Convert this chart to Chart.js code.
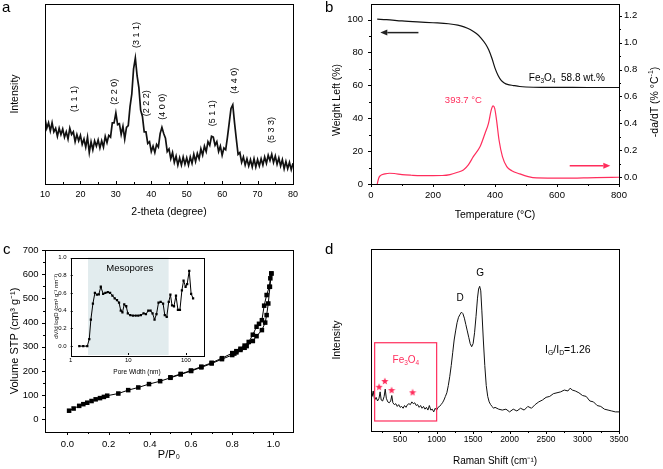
<!DOCTYPE html>
<html lang="en">
<head>
<meta charset="utf-8">
<title>Fe3O4 / carbon characterisation</title>
<script src="https://cdn.jsdelivr.net/npm/chart.js@4.4.1/dist/chart.umd.min.js"></script>
<style>
  body { margin: 0; background: #fff; }
  #page { position: relative; width: 663px; height: 469px; overflow: hidden; }
  #page canvas { position: absolute; }
  .tag { position: absolute; font: 15px 'Liberation Sans', Arial, sans-serif; line-height: 16px; color: #000; }
</style>
</head>
<body>
<div id="page">
  <canvas id="xrd" width="330" height="235" style="left:0;top:0"></canvas>
  <canvas id="tga" width="333" height="235" style="left:330px;top:0"></canvas>
  <canvas id="bet" width="330" height="234" style="left:0;top:235px"></canvas>
  <canvas id="raman" width="333" height="234" style="left:330px;top:235px"></canvas>
  <canvas id="pore" width="160" height="128" style="left:50px;top:250px"></canvas>
  <div class="tag" style="left:2px;top:-1px">a</div>
  <div class="tag" style="left:325px;top:-1px">b</div>
  <div class="tag" style="left:3px;top:241px">c</div>
  <div class="tag" style="left:325px;top:241px">d</div>
</div>
<script>
// ---------- data ----------
// (a) XRD
var xrdAngle = [10,10.5,11,11.5,12,12.5,13,13.5,14,14.5,15,15.5,16,16.5,17,17.5,18,18.5,19,19.5,
  20,20.5,21,21.5,22,22.5,23,23.5,24,24.5,25,25.5,26,26.5,27,27.5,28,28.5,29,29.5,
  30,30.5,31,31.5,32,32.5,33,33.5,34,34.5,35,35.5,36,36.5,37,37.5,38,38.5,39,39.5,
  40,40.5,41,41.5,42,42.5,43,43.5,44,44.5,45,45.5,46,46.5,47,47.5,48,48.5,49,49.5,
  50,50.5,51,51.5,52,52.5,53,53.5,54,54.5,55,55.5,56,56.5,57,57.5,58,58.5,59,59.5,
  60,60.5,61,61.5,62,62.5,63,63.5,64,64.5,65,65.5,66,66.5,67,67.5,68,68.5,69,69.5,
  70,70.5,71,71.5,72,72.5,73,73.5,74,74.5,75,75.5,76,76.5,77,77.5,78,78.5,79,79.5,80];
var xrdIntensity = [36.5,31,34,29.5,34,29,31,26.5,31,27.5,
  30.5,26,29,25,31,27.5,29,23.5,27.5,24,
  27,22,25,20.5,26,17.5,23.5,19,24,21,
  24.5,20,24,20.5,26.5,23,27,26,34,34,
  39.5,33,33.5,27.5,32,25,31.5,32.5,43,50,
  64,70,60,53.5,41,37.5,29,29,22.5,23.5,
  18,21,17.5,22,20.5,28,31.5,28,25.5,18,
  19.5,14,17.5,12,15.5,10.5,14.5,10.5,15,11,
  14.5,10.5,15,11.5,16.5,12.5,17,14,19.5,16,
  21,18,23.5,21.5,26.5,26,21.5,23.5,18,21,
  16,20,19,26,34,42,44,34,25,16.5,
  17.5,12,15,10.5,14,10,13.5,9.5,14,9.5,
  13.5,10,14,10.5,15,11.5,16,13,16.5,12,
  15.5,11,14.5,10,13.5,8.5,12.5,8.5,12,8,
  11.5];
var xrdTicks = [10, 20, 30, 40, 50, 60, 70, 80];
var hklLabels = ['(1 1 1)', '(2 2 0)', '(3 1 1)', '(2 2 2)', '(4 0 0)', '(5 1 1)', '(4 4 0)', '(5 3 3)'];

// (b) TGA / DTG
var tgaTemp = [20,50,100,150,200,250,280,300,320,340,355,370,380,390,400,410,420,430,440,460,480,500,550,600,700,800];
var tgaWeight = [100.3,100,99.2,98.6,98.1,97.5,96.7,95.6,94,91.5,88.8,85,81.5,76.5,70.5,66,63,61.5,60.6,59.9,59.3,59,58.8,58.8,58.7,58.7];
var dtgTemp = [20,25,30,45,60,75,100,130,160,200,230,255,277,298,314,330,352,368,379,388,393.7,399,405,413,424,438,454,480,507,534,620,727,800];
var dtgRate = [-0.05,-0.005,0.012,0.025,0.03,0.028,0.02,0.015,0.012,0.012,0.013,0.02,0.035,0.054,0.092,0.153,0.228,0.327,0.40,0.5,0.53,0.512,0.425,0.277,0.153,0.079,0.049,0.025,0.005,-0.005,-0.007,-0.002,0.0];
var tempTicks = [0, 200, 400, 600, 800];
var weightTicks = [0, 20, 40, 60, 80, 100];
var rateTicks = [0, 0.2, 0.4, 0.6, 0.8, 1.0, 1.2];

// (c) N2 isotherm and pore size distribution
var adsP = [0.008,0.03,0.057,0.077,0.096,0.117,0.137,0.158,0.177,0.193,0.247,0.295,0.344,0.396,0.45,0.5,0.55,0.6,0.65,0.7,0.75,0.8,0.81,0.82,0.84,0.86,0.87,0.9,0.918,0.944,0.96,0.967,0.975,0.983,0.99];
var adsV = [36,45,56,63,69,76,83,88,93,98,107,121,132,146,158,172,186,200,215,231,249,266,272,277,287,296,303,324,344,369,400,431,479,548,603];
var desP = [0.99,0.985,0.98,0.967,0.955,0.944,0.93,0.918,0.9,0.88,0.86,0.84,0.82,0.8,0.75,0.7,0.65,0.6,0.55,0.5];
var desV = [603,583,548,514,470,410,395,383,350,320,305,292,282,274,253,234,218,202,188,174];
var pressureTicks = [0, 0.2, 0.4, 0.6, 0.8, 1.0];
var volumeTicks = [0, 100, 200, 300, 400, 500, 600, 700];
var poreWidth = [1.41,1.65,1.94,2.1,2.24,2.43,2.63,2.85,3.08,3.33,3.66,4.0,4.4,4.83,5.3,5.8,6.36,6.9,7.4,7.9,
  8.5,9.2,9.8,10.8,12.0,13.4,14.9,16.5,18.4,20.2,22.2,24.3,26.3,28.5,30.8,33.4,36.4,40.1,42.9,46.4,
  50.3,53.7,57.4,62.0,67.1,72.6,78.6,85.1,90.9,98.5,105,114,123,133];
var poreVolume = [0,0,0,0.08,0.30,0.48,0.60,0.58,0.585,0.67,0.59,0.60,0.61,0.60,0.57,0.54,0.52,0.49,0.40,0.38,
  0.47,0.45,0.37,0.35,0.345,0.345,0.345,0.35,0.37,0.36,0.40,0.40,0.37,0.30,0.36,0.49,0.50,0.48,0.35,0.33,
  0.50,0.58,0.46,0.45,0.57,0.41,0.41,0.63,0.74,0.67,0.70,0.85,0.59,0.54];
var widthTicks = [1, 10, 100];
var poreTicks = [0, 0.2, 0.4, 0.6, 0.8, 1.0];
var mesoRange = [2, 50];

// (d) Raman
var ramanShift = [100,115,130,150,170,190,210,225,240,260,280,295,310,330,350,370,385,400,420,440,
  460,480,500,520,540,560,580,600,620,640,660,680,700,720,740,760,780,800,820,840,
  860,880,900,920,940,960,980,1000,1020,1040,1060,1080,1100,1120,1140,1160,1180,1200,1220,1240,
  1260,1280,1300,1320,1340,1360,1380,1400,1420,1440,1460,1480,1500,1520,1540,1560,1575,1590,1605,1620,
  1640,1660,1680,1700,1720,1740,1760,1780,1800,1850,1900,1950,2000,2050,2100,2150,2200,2250,2300,2350,
  2400,2450,2500,2550,2600,2650,2700,2750,2800,2830,2860,2900,2950,3000,3050,3100,3150,3200,3250,3300,
  3350,3400,3450,3500];
var ramanIntensity = [23,19,22,17,18.5,16.5,18,21.5,17,16.5,19,23,18,16,15.5,16.5,19.5,15.5,14.5,15,
  13.5,14.5,13,13.5,12.5,14,13,14.5,15,14.5,16,15,15.5,14,14.5,13,14,12.5,13.5,12,
  13,11.5,14,11.5,12,10.5,12.5,11.5,13,13.5,14.5,15.5,17,19,21,25,30,36,43,50,
  55,59.5,62.5,64,65.3,64.5,62,58.5,55,51.5,48,46.3,48,54,63,73,78,79.5,77,66,
  50,36,25,19,16,14.5,13.5,12.5,13,12,11.5,12,10.5,12,11,12.5,11.5,13.5,12.5,14.5,
  16,17,18.5,19,20.5,21,21.5,22.5,22,23.5,22.5,22,21,19.5,19,16.5,16,14,13.5,12,
  11.5,11,10.5,10.5];
var starShift = [211, 290, 382, 670];
var starIntensity = [24.3, 27.5, 22.5, 21.3];
var shiftTicks = [500, 1000, 1500, 2000, 2500, 3000, 3500];

var RED = '#ff2d5c';
var FONT = "'Liberation Sans', Arial, sans-serif";

// ---------- helpers ----------
Chart.defaults.font.family = FONT;
Chart.defaults.color = '#000';
Chart.defaults.animation = false;
Chart.defaults.responsive = false;
Chart.defaults.plugins.legend.display = false;
Chart.defaults.plugins.tooltip.enabled = false;

function pts(xs, ys) {
  return xs.map(function (x, i) { return { x: x, y: ys[i] }; });
}

// one axis with fixed ticks and a fixed thickness, so the plot boxes land where the figure has them
function axis(o) {
  return {
    type: o.type || 'linear',
    position: o.position,
    min: o.min,
    max: o.max,
    grid: { display: false, drawTicks: false },
    border: { display: false },
    ticks: {
      display: o.labels !== false,
      autoSkip: false,
      maxRotation: 0,
      padding: o.pad || 0,
      font: { size: o.font || 9 },
      callback: o.format || function (v) { return String(v); }
    },
    title: {
      display: !!o.title,
      text: o.title || '',
      font: { size: o.titleFont || 10.5 },
      padding: { top: o.titlePad || 0, bottom: o.titlePad || 0 }
    },
    afterBuildTicks: function (s) {
      s.ticks = o.ticks.map(function (v) { return { value: v }; });
    },
    afterFit: function (s) {
      if (s.isHorizontal()) s.height = o.size; else s.width = o.size;
      s.paddingTop = 0; s.paddingBottom = 0; s.paddingLeft = 0; s.paddingRight = 0;
    }
  };
}

function oneDec(v) { return v.toFixed(1); }

// text with sub/superscripts: parts = [[text, 'sub'|'sup'|undefined], ...]
function rich(ctx, parts, x, y, size, align, color) {
  ctx.save();
  ctx.fillStyle = color || '#000';
  ctx.textBaseline = 'middle';
  ctx.textAlign = 'left';
  var w = 0;
  parts.forEach(function (p) {
    ctx.font = (p[1] ? size * 0.65 : size) + 'px ' + FONT;
    w += ctx.measureText(p[0]).width;
  });
  var cx = align === 'center' ? x - w / 2 : (align === 'right' ? x - w : x);
  parts.forEach(function (p) {
    ctx.font = (p[1] ? size * 0.65 : size) + 'px ' + FONT;
    var dy = p[1] === 'sub' ? size * 0.3 : (p[1] === 'sup' ? -size * 0.35 : 0);
    ctx.fillText(p[0], cx, y + dy);
    cx += ctx.measureText(p[0]).width;
  });
  ctx.restore();
}

function vrich(ctx, parts, x, y, size, color) {
  ctx.save();
  ctx.translate(x, y);
  ctx.rotate(-Math.PI / 2);
  rich(ctx, parts, 0, 0, size, 'center', color);
  ctx.restore();
}

function arrow(ctx, x0, y0, x1, y1, color) {
  var a = Math.atan2(y1 - y0, x1 - x0), h = 7, w = 3;
  var c = Math.cos(a), s = Math.sin(a);
  ctx.save();
  ctx.strokeStyle = color; ctx.fillStyle = color; ctx.lineWidth = 1.5;
  ctx.beginPath(); ctx.moveTo(x0, y0); ctx.lineTo(x1 - h * c, y1 - h * s); ctx.stroke();
  ctx.beginPath();
  ctx.moveTo(x1, y1);
  ctx.lineTo(x1 - h * c + w * s, y1 - h * s - w * c);
  ctx.lineTo(x1 - h * c - w * s, y1 - h * s + w * c);
  ctx.closePath(); ctx.fill();
  ctx.restore();
}

function drawMarks(chart, m) {
  var s = chart.scales[m.scale], a = chart.chartArea, ctx = chart.ctx;
  var sign = m.dir === 'in' ? -1 : 1;
  ctx.beginPath();
  m.values.forEach(function (v) {
    var p = Math.round(s.getPixelForValue(v)) + 0.5;
    if (s.position === 'bottom') { ctx.moveTo(p, a.bottom); ctx.lineTo(p, a.bottom + sign * m.len); }
    else if (s.position === 'left') { ctx.moveTo(a.left, p); ctx.lineTo(a.left - sign * m.len, p); }
    else { ctx.moveTo(a.right, p); ctx.lineTo(a.right + sign * m.len, p); }
  });
  ctx.stroke();
}

// frame, tick marks and annotations
Chart.register({
  id: 'deco',
  beforeDatasetsDraw: function (chart, args, opts) {
    if (opts.under) opts.under(chart, chart.ctx);
  },
  afterDraw: function (chart, args, opts) {
    var ctx = chart.ctx, a = chart.chartArea;
    ctx.save();
    ctx.strokeStyle = '#000';
    ctx.lineWidth = 1;
    ctx.strokeRect(Math.round(a.left) + 0.5, Math.round(a.top) + 0.5,
      Math.round(a.right - a.left), Math.round(a.bottom - a.top));
    (opts.marks || []).forEach(function (m) { drawMarks(chart, m); });
    ctx.restore();
    if (opts.over) opts.over(chart, ctx);
  }
});

// filled star used for the Fe3O4 bands
var starImg = document.createElement('canvas');
starImg.width = 8; starImg.height = 8;
(function () {
  var c = starImg.getContext('2d');
  c.fillStyle = RED;
  c.beginPath();
  for (var i = 0; i < 10; i++) {
    var r = i % 2 ? 1.6 : 3.8, t = -Math.PI / 2 + i * Math.PI / 5;
    c.lineTo(4 + r * Math.cos(t), 4.4 + r * Math.sin(t));
  }
  c.closePath(); c.fill();
})();

// ---------- (a) XRD ----------
new Chart(document.getElementById('xrd'), {
  type: 'line',
  data: { datasets: [{ data: pts(xrdAngle, xrdIntensity), borderColor: '#111', borderWidth: 1.7, pointRadius: 0 }] },
  options: {
    layout: { padding: { top: 4, right: 37 } },
    scales: {
      x: axis({ position: 'bottom', min: 10, max: 80, ticks: xrdTicks, pad: 5.6, size: 51, title: '2-theta (degree)', titlePad: 16.7 }),
      y: axis({ position: 'left', min: 0, max: 100, ticks: [0, 100], labels: false, size: 45, title: 'Intensity', titlePad: 8.7 })
    },
    plugins: {
      deco: {
        marks: [
          { scale: 'x', values: xrdTicks, len: 3, dir: 'in' },
          { scale: 'x', values: [15, 25, 35, 45, 55, 65, 75], len: 2, dir: 'in' }
        ],
        over: function (chart, ctx) {
          var x = chart.scales.x, y = chart.scales.y;
          var at = [[18.2, 47.2], [29.7, 51.3], [35.7, 82.8], [38.7, 44.8], [43.3, 42.9], [57.2, 39.3], [63.6, 57.3], [73.9, 30]];
          hklLabels.forEach(function (t, i) {
            vrich(ctx, [[t]], x.getPixelForValue(at[i][0]), y.getPixelForValue(at[i][1]), 9, '#000');
          });
        }
      }
    }
  }
});

// ---------- (b) TGA ----------
new Chart(document.getElementById('tga'), {
  type: 'line',
  data: {
    datasets: [
      { data: pts(tgaTemp, tgaWeight), yAxisID: 'y', borderColor: '#111', borderWidth: 1.2, pointRadius: 0, cubicInterpolationMode: 'monotone' },
      { data: pts(dtgTemp, dtgRate), yAxisID: 'y2', borderColor: RED, borderWidth: 1.2, pointRadius: 0, cubicInterpolationMode: 'monotone' }
    ]
  },
  options: {
    layout: { padding: { top: 4 } },
    scales: {
      x: axis({ position: 'bottom', min: 0, max: 800, ticks: tempTicks, pad: 5.6, size: 51, font: 9.5, title: 'Temperature (°C)', titlePad: 13.7 }),
      y: axis({ position: 'left', min: 0, max: 109.5, ticks: weightTicks, pad: 8, size: 41, font: 9.5 }),
      y2: axis({ position: 'right', min: -0.05, max: 1.287, ticks: rateTicks, pad: 5, size: 44, font: 9.5, format: oneDec })
    },
    plugins: {
      deco: {
        marks: [
          { scale: 'x', values: tempTicks, len: 3, dir: 'out' },
          { scale: 'x', values: [100, 300, 500, 700], len: 2, dir: 'out' },
          { scale: 'y', values: weightTicks, len: 3, dir: 'out' },
          { scale: 'y', values: [10, 30, 50, 70, 90], len: 2, dir: 'out' },
          { scale: 'y2', values: rateTicks, len: 3, dir: 'out' },
          { scale: 'y2', values: [0.1, 0.3, 0.5, 0.7, 0.9, 1.1], len: 2, dir: 'out' }
        ],
        over: function (chart, ctx) {
          var x = chart.scales.x, y = chart.scales.y, y2 = chart.scales.y2;
          rich(ctx, [['Fe'], ['3', 'sub'], ['O'], ['4', 'sub'], ['  58.8 wt.%']],
            x.getPixelForValue(509), y.getPixelForValue(64.4), 10, 'left', '#000');
          rich(ctx, [['393.7 °C']], x.getPixelForValue(298), y.getPixelForValue(51), 9.5, 'center', RED);
          arrow(ctx, x.getPixelForValue(153), y.getPixelForValue(92.1), x.getPixelForValue(30), y.getPixelForValue(92.1), '#222');
          arrow(ctx, x.getPixelForValue(641), y2.getPixelForValue(0.086), x.getPixelForValue(772), y2.getPixelForValue(0.086), RED);
          vrich(ctx, [['Weight Left (%)']], 7.3, 100, 10.5, '#000');
          vrich(ctx, [['-da/dT (% °C'], ['-1', 'sup'], [')']], 325, 102, 10.5, '#000');
        }
      }
    }
  }
});

// ---------- (c) N2 isotherm ----------
new Chart(document.getElementById('bet'), {
  type: 'line',
  data: {
    datasets: [
      { data: pts(adsP, adsV), borderColor: '#000', borderWidth: 1, pointStyle: 'rect', pointRadius: 3.2, pointBorderWidth: 0, pointBackgroundColor: '#000' },
      { data: pts(desP, desV), borderColor: '#000', borderWidth: 1, pointStyle: 'rect', pointRadius: 3.2, pointBorderWidth: 0, pointBackgroundColor: '#000' }
    ]
  },
  options: {
    layout: { padding: { top: 15, right: 37 } },
    scales: {
      x: axis({ position: 'bottom', min: -0.109, max: 1.095, ticks: pressureTicks, pad: 7, size: 37, font: 9.5, format: oneDec, title: 'P/P₀', titleFont: 11, titlePad: 7.4 }),
      y: axis({ position: 'left', min: -52, max: 700, ticks: volumeTicks, pad: 6.5, size: 45, font: 9.5, title: 'Volume STP (cm³ g⁻¹)', titleFont: 11, titlePad: 8.4 })
    },
    plugins: {
      deco: {
        marks: [
          { scale: 'x', values: pressureTicks, len: 3, dir: 'out' },
          { scale: 'x', values: [0.1, 0.3, 0.5, 0.7, 0.9], len: 2, dir: 'out' },
          { scale: 'y', values: volumeTicks, len: 3, dir: 'out' },
          { scale: 'y', values: [50, 150, 250, 350, 450, 550, 650], len: 2, dir: 'out' }
        ]
      }
    }
  }
});

// ---------- (c) inset: pore size distribution ----------
new Chart(document.getElementById('pore'), {
  type: 'line',
  data: {
    datasets: [{ data: pts(poreWidth, poreVolume), borderColor: '#000', borderWidth: 1, pointStyle: 'rect', pointRadius: 1.6, pointBorderWidth: 0, pointBackgroundColor: '#000' }]
  },
  options: {
    layout: { padding: { top: 7.5, right: 6.7 } },
    scales: {
      x: axis({ type: 'logarithmic', position: 'bottom', min: 1, max: 200, ticks: widthTicks, pad: 1.4, size: 23, font: 6, title: 'Pore Width (nm)', titleFont: 6.5, titlePad: 1.8 }),
      y: axis({ position: 'left', min: -0.1, max: 1.0, ticks: poreTicks, pad: 4, size: 20.7, font: 6, format: oneDec, title: 'dV/d logD (cm³ g⁻¹ nm⁻¹)', titleFont: 6, titlePad: 3 })
    },
    plugins: {
      deco: {
        marks: [
          { scale: 'x', values: widthTicks, len: 2, dir: 'in' },
          { scale: 'y', values: poreTicks, len: 2, dir: 'in' }
        ],
        under: function (chart, ctx) {
          var x = chart.scales.x, a = chart.chartArea;
          var x0 = x.getPixelForValue(mesoRange[0]), x1 = x.getPixelForValue(mesoRange[1]);
          ctx.save();
          ctx.fillStyle = '#e2ecee';
          ctx.fillRect(x0, a.top, x1 - x0, a.bottom - a.top);
          ctx.restore();
        },
        over: function (chart, ctx) {
          rich(ctx, [['Mesopores']], chart.scales.x.getPixelForValue(10.6), chart.scales.y.getPixelForValue(0.88), 9.5, 'center', '#000');
        }
      }
    }
  }
});

// ---------- (d) Raman ----------
new Chart(document.getElementById('raman'), {
  type: 'line',
  data: {
    datasets: [
      { data: pts(ramanShift, ramanIntensity), borderColor: '#111', borderWidth: 1, pointRadius: 0 },
      { data: pts(starShift, starIntensity), showLine: false, pointStyle: starImg, pointRadius: 4 }
    ]
  },
  options: {
    layout: { padding: { top: 14, right: 44 } },
    scales: {
      x: axis({ position: 'bottom', min: 100, max: 3500, ticks: shiftTicks, pad: 3.3, size: 38, font: 8.5, title: 'Raman Shift (cm⁻¹)', titleFont: 10, titlePad: 1.3 }),
      y: axis({ position: 'left', min: 0, max: 100, ticks: [0, 100], labels: false, size: 41, title: 'Intensity', titlePad: 1.3 })
    },
    plugins: {
      deco: {
        marks: [
          { scale: 'x', values: shiftTicks, len: 3, dir: 'out' },
          { scale: 'x', values: [250, 750, 1250, 1750, 2250, 2750, 3250], len: 2, dir: 'out' }
        ],
        over: function (chart, ctx) {
          var x = chart.scales.x, y = chart.scales.y;
          var bx0 = x.getPixelForValue(150), bx1 = x.getPixelForValue(1000);
          var by0 = y.getPixelForValue(48.5), by1 = y.getPixelForValue(5.5);
          ctx.save();
          ctx.strokeStyle = RED; ctx.lineWidth = 1.2;
          ctx.strokeRect(bx0, by0, bx1 - bx0, by1 - by0);
          ctx.restore();
          rich(ctx, [['Fe'], ['3', 'sub'], ['O'], ['4', 'sub']], x.getPixelForValue(578), y.getPixelForValue(39), 10, 'center', RED);
          rich(ctx, [['D']], x.getPixelForValue(1320), y.getPixelForValue(72.8), 10, 'center', '#000');
          rich(ctx, [['G']], x.getPixelForValue(1595), y.getPixelForValue(86.5), 10, 'center', '#000');
          rich(ctx, [['I'], ['G', 'sub'], ['/I'], ['D', 'sub'], ['=1.26']], x.getPixelForValue(2487), y.getPixelForValue(44.5), 10.5, 'left', '#000');
        }
      }
    }
  }
});
</script>
</body>
</html>
